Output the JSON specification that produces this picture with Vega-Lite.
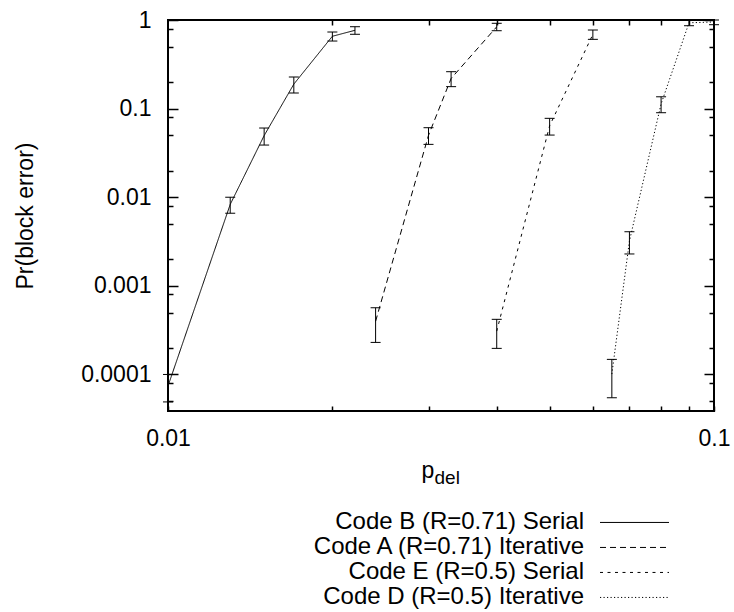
{
  "$schema": "https://vega.github.io/schema/vega-lite/v6.json",
  "width": 546,
  "height": 391,
  "autosize": {"type": "none"},
  "padding": {"left": 168, "top": 20, "right": 20, "bottom": 201},
  "background": "white",
  "config": {
    "view": {"stroke": "black", "strokeWidth": 2},
    "font": "Liberation Sans",
    "axis": {
      "labelFont": "Liberation Sans",
      "titleFont": "Liberation Sans",
      "labelColor": "black",
      "titleColor": "black",
      "tickColor": "black",
      "tickWidth": 1.5,
      "domain": false,
      "grid": false,
      "labelFontSize": 23,
      "titleFontSize": 23,
      "titleFontWeight": "normal",
      "labelFlush": false,
      "labelOverlap": false
    }
  },
  "data": {
    "values": [
      {"series": "Code B (R=0.71) Serial", "p": 0.01, "pr": 0.000074, "lo": 0.000049, "hi": 0.0001},
      {"series": "Code B (R=0.71) Serial", "p": 0.013, "pr": 0.0083, "lo": 0.0066, "hi": 0.0100},
      {"series": "Code B (R=0.71) Serial", "p": 0.015, "pr": 0.0496, "lo": 0.0388, "hi": 0.0604},
      {"series": "Code B (R=0.71) Serial", "p": 0.017, "pr": 0.189, "lo": 0.150, "hi": 0.227},
      {"series": "Code B (R=0.71) Serial", "p": 0.020, "pr": 0.655, "lo": 0.579, "hi": 0.732},
      {"series": "Code B (R=0.71) Serial", "p": 0.022, "pr": 0.765, "lo": 0.690, "hi": 0.840},
      {"series": "Code A (R=0.71) Iterative", "p": 0.024, "pr": 0.000398, "lo": 0.00023, "hi": 0.000566},
      {"series": "Code A (R=0.71) Iterative", "p": 0.030, "pr": 0.050, "lo": 0.0395, "hi": 0.0609},
      {"series": "Code A (R=0.71) Iterative", "p": 0.033, "pr": 0.219, "lo": 0.177, "hi": 0.261},
      {"series": "Code A (R=0.71) Iterative", "p": 0.040, "pr": 0.838, "lo": 0.757, "hi": 0.918},
      {"series": "Code E (R=0.5) Serial", "p": 0.040, "pr": 0.000308, "lo": 0.000197, "hi": 0.000419},
      {"series": "Code E (R=0.5) Serial", "p": 0.050, "pr": 0.064, "lo": 0.0503, "hi": 0.0777},
      {"series": "Code E (R=0.5) Serial", "p": 0.060, "pr": 0.688, "lo": 0.605, "hi": 0.771},
      {"series": "Code D (R=0.5) Iterative", "p": 0.065, "pr": 0.000101, "lo": 0.0000546, "hi": 0.000148},
      {"series": "Code D (R=0.5) Iterative", "p": 0.070, "pr": 0.0032, "lo": 0.00229, "hi": 0.00408},
      {"series": "Code D (R=0.5) Iterative", "p": 0.080, "pr": 0.113, "lo": 0.0899, "hi": 0.136},
      {"series": "Code D (R=0.5) Iterative", "p": 0.090, "pr": 0.93, "lo": 0.862, "hi": 1.0},
      {"series": "Code D (R=0.5) Iterative", "p": 0.100, "pr": 0.95, "lo": 0.885, "hi": 1.0}
    ]
  },
  "layer": [
    {
      "mark": {"type": "line", "color": "black", "strokeWidth": 1},
      "encoding": {
        "x": {
          "field": "p", "type": "quantitative",
          "scale": {"type": "log", "domain": [0.01, 0.1], "nice": false},
          "axis": {
            "orient": "bottom",
            "values": [0.01, 0.02, 0.03, 0.04, 0.05, 0.06, 0.07, 0.08, 0.09, 0.1],
            "format": "~g",
            "labelExpr": "datum.value === 0.01 || datum.value === 0.1 ? datum.label : ''",
            "tickSize": -5,
            "labelPadding": 21,
            "title": "p",
            "titleAlign": "left",
            "titleBaseline": "alphabetic",
            "titleX": 253,
            "titleY": 66
          }
        },
        "y": {
          "field": "pr", "type": "quantitative",
          "scale": {"type": "log", "domain": [0.0000387, 1], "nice": false},
          "axis": {
            "orient": "left",
            "values": [1, 0.1, 0.01, 0.001, 0.0001],
            "format": "~g",
            "tickSize": -10,
            "labelPadding": 27,
            "title": "Pr(block error)",
            "titleAngle": -90,
            "titleAlign": "center",
            "titleBaseline": "alphabetic",
            "titleX": -135.5,
            "titleY": 195.5
          }
        },
        "strokeDash": {
          "field": "series", "type": "nominal",
          "scale": {
            "domain": ["Code B (R=0.71) Serial", "Code A (R=0.71) Iterative", "Code E (R=0.5) Serial", "Code D (R=0.5) Iterative"],
            "range": [[1, 0], [6, 4], [3, 4.5], [1.2, 2.3]]
          },
          "legend": {
            "orient": "none",
            "legendX": 431.5,
            "legendY": 490.8,
            "title": null,
            "direction": "vertical",
            "symbolType": "stroke",
            "symbolSize": 4761,
            "symbolStrokeColor": "black",
            "symbolStrokeWidth": 1,
            "symbolOpacity": 1,
            "labelAlign": "right",
            "labelBaseline": "middle",
            "labelOffset": -85.5,
            "labelFont": "Liberation Sans",
            "labelFontSize": 24,
            "labelColor": "black",
            "labelLimit": 600,
            "rowPadding": 0,
            "padding": 0,
            "encode": {
              "symbols": {"update": {"y": {"value": 11.65}}},
              "labels": {"update": {"y": {"value": 11.65}}}
            }
          }
        }
      }
    },
    {
      "mark": {"type": "rule", "color": "black", "strokeWidth": 1},
      "encoding": {
        "x": {
          "field": "p", "type": "quantitative",
          "scale": {"type": "log", "domain": [0.01, 0.1], "nice": false},
          "axis": {
            "orient": "top",
            "values": [0.02, 0.03, 0.04, 0.05, 0.06, 0.07, 0.08, 0.09],
            "labels": false,
            "tickSize": -5,
            "title": null
          }
        },
        "y": {
          "field": "lo", "type": "quantitative",
          "scale": {"type": "log", "domain": [0.0000387, 1], "nice": false},
          "axis": {
            "orient": "left",
            "values": [0.8, 0.5, 0.2, 0.08, 0.05, 0.02, 0.008, 0.005, 0.002, 0.0008, 0.0005, 0.0002, 0.00008, 0.00005],
            "labels": false,
            "tickSize": -5,
            "title": null
          }
        },
        "y2": {"field": "hi"}
      }
    },
    {
      "mark": {"type": "tick", "orient": "horizontal", "color": "black", "size": 10, "thickness": 1, "opacity": 1},
      "encoding": {
        "x": {
          "field": "p", "type": "quantitative",
          "scale": {"type": "log", "domain": [0.01, 0.1], "nice": false},
          "axis": {
            "orient": "bottom",
            "ticks": false,
            "labels": false,
            "domain": false,
            "title": "del",
            "titleFontSize": 19,
            "titleAlign": "left",
            "titleBaseline": "alphabetic",
            "titleX": 266,
            "titleY": 72
          }
        },
        "y": {
          "field": "lo", "type": "quantitative",
          "scale": {"type": "log", "domain": [0.0000387, 1], "nice": false},
          "axis": {
            "orient": "right",
            "values": [1, 0.1, 0.01, 0.001, 0.0001],
            "labels": false,
            "tickSize": -10,
            "title": null
          }
        }
      }
    },
    {
      "mark": {"type": "tick", "orient": "horizontal", "color": "black", "size": 10, "thickness": 1, "opacity": 1},
      "encoding": {
        "x": {
          "field": "p", "type": "quantitative",
          "scale": {"type": "log", "domain": [0.01, 0.1], "nice": false},
          "axis": null
        },
        "y": {
          "field": "hi", "type": "quantitative",
          "scale": {"type": "log", "domain": [0.0000387, 1], "nice": false},
          "axis": {
            "orient": "right",
            "values": [0.8, 0.5, 0.2, 0.08, 0.05, 0.02, 0.008, 0.005, 0.002, 0.0008, 0.0005, 0.0002, 0.00008, 0.00005],
            "labels": false,
            "tickSize": -5,
            "title": null
          }
        }
      }
    }
  ],
  "resolve": {
    "scale": {"x": "shared", "y": "shared"},
    "axis": {"x": "independent", "y": "independent"}
  }
}
